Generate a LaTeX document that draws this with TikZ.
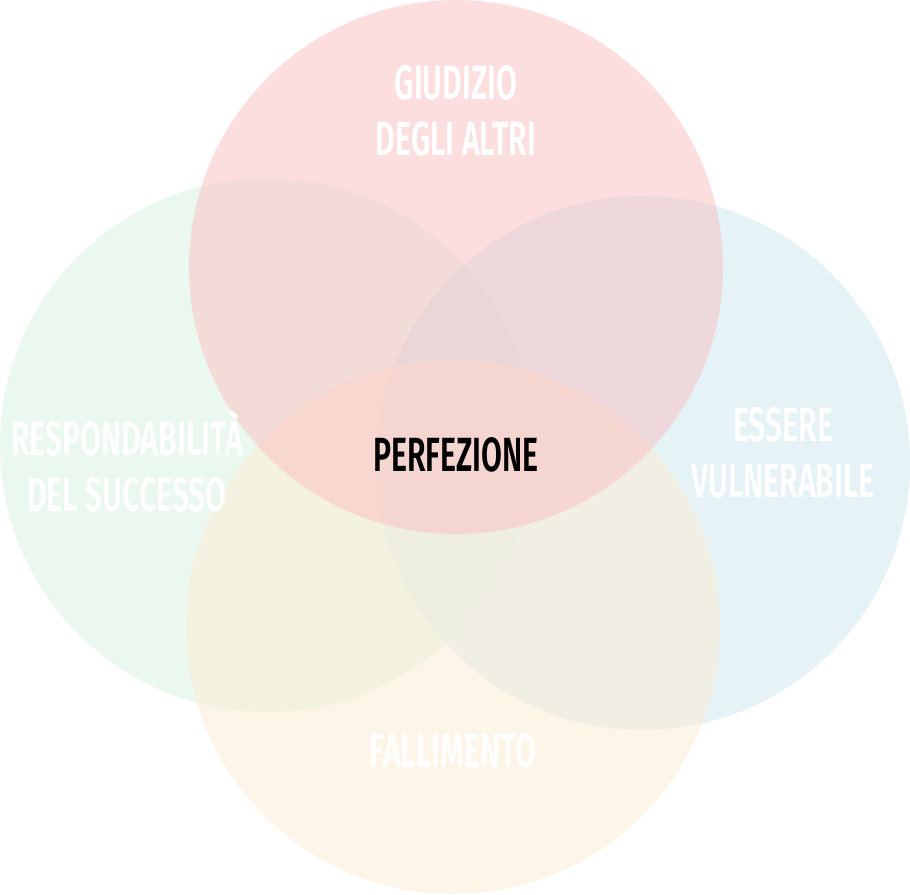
\documentclass[tikz,border=0pt]{standalone}
\usepackage{fontspec}
\setmainfont{Fira Sans}[UprightFont=* SemiBold]
\begin{document}
\begin{tikzpicture}[x=1pt,y=-1pt,
  circ/.style={fill opacity=0.55,draw=none},
  lab/.style={text=white,align=center,font=\fontsize{48}{56}\selectfont,xscale=0.63,inner sep=0pt}]
\useasboundingbox (0,0) rectangle (910,894);
\fill[circ,fill={rgb,255:red,218;green,242;blue,225}] (267,445) circle (267);
\fill[circ,fill={rgb,255:red,208;green,233;blue,238}] (643,463) circle (267);
\fill[circ,fill={rgb,255:red,251;green,237;blue,212}] (453,627) circle (267);
\fill[circ,fill opacity=0.5,fill={rgb,255:red,251;green,190;blue,192}] (456,267) circle (267);
\node[lab] (g) at (456,111) {GIUDIZIO\\DEGLI ALTRI};
\node[lab] (r) at (127,461) {RESPONDABILITÀ\\DEL SUCCESSO};
\node[lab] (e) at (783,453) {ESSERE\\VULNERABILE};
\node[lab] (f) at (453,751) {FALLIMENTO};
\node[lab,text=black] (p) at (456,455) {PERFEZIONE};
\end{tikzpicture}
\end{document}
